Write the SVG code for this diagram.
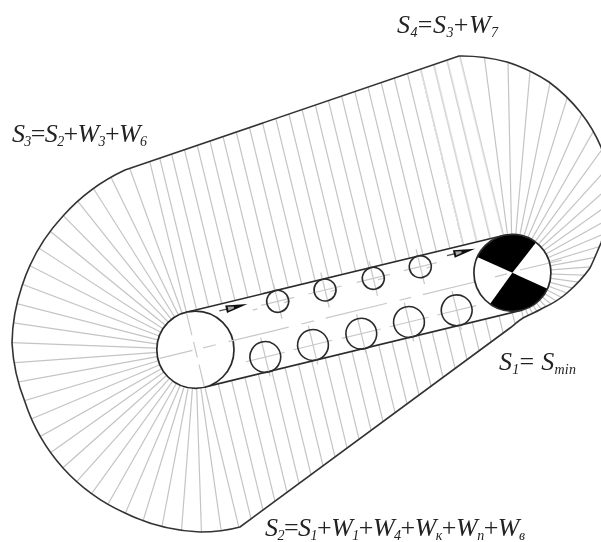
<svg xmlns="http://www.w3.org/2000/svg" xmlns:xlink="http://www.w3.org/1999/xlink" width="601" height="542" viewBox="0 0 601 542">
<style>
.h{stroke:#c4c4c4;stroke-width:1.2;fill:none}
.c{stroke:#c8c8c8;stroke-width:1.2;fill:none}
.o{stroke:#333;stroke-width:1.6;fill:none}
.k{stroke:#2c2c2c;stroke-width:1.6;fill:none}
.t{font-family:"Liberation Serif",serif;font-style:italic;font-size:26px;fill:#222}
.t .s{font-size:14px}
.t .p{font-style:normal}
</style>
<defs>
<filter id="soft" x="0" y="0" width="100%" height="100%" filterUnits="userSpaceOnUse" primitiveUnits="userSpaceOnUse"><feGaussianBlur stdDeviation="0.35"/></filter>
<path id="prof" d="M125 170 L459 56 A175 175 0 0 1 507 62 A175 175 0 0 1 549 82 A170 170 0 0 1 581 113 A150 150 0 0 1 601 147 C612 175 612 215 601 243 C597 252 594 260 590 268 C583 278 575 286 567 293 C560 299 552 304 543 308 C536 312 529 315 523 318 C518 321 514 325 510 328 L240 527 Q222 532 200 532 A186 186 0 0 1 125 513 A186 186 0 0 1 63 468 A186 186 0 0 1 25 402 A186 186 0 0 1 12 343 A186 186 0 0 1 22 286 A186 186 0 0 1 63 216 A190 190 0 0 1 125 170 Z"/>
<clipPath id="clip"><use xlink:href="#prof" href="#prof"/></clipPath>
<line id="rl" x1="0" y1="0" x2="-320" y2="0" class="h"/>
<line id="rr" x1="0" y1="0" x2="0" y2="-320" class="h"/>
<line id="pt" x1="0" y1="-330" x2="0" y2="0" class="h"/>
<line id="pb" x1="0" y1="0" x2="0" y2="330" class="h"/>
<g id="arrow">
<line x1="0" y1="0" x2="10" y2="0" stroke="#555" stroke-width="1.3"/>
<polygon points="7,-3.8 7,3.8 29,0" fill="#111"/>
<polygon points="9,-2 9,2 15,0.8 15,-0.8" fill="#aaa"/>
</g>
<g id="tc"><line x1="-17" x2="17" class="c"/><line y1="-18" y2="18" class="c"/><circle r="11" class="k"/></g>
<g id="bc"><line x1="-20" x2="20" class="c"/><line y1="-20" y2="20" class="c"/><circle r="15.4" class="k"/></g>
</defs>
<rect width="601" height="542" fill="#fff"/>
<g filter="url(#soft)">
<g id="hatching" clip-path="url(#clip)">
<g transform="translate(195.4 349.7)">
<use href="#rl" transform="rotate(2.2)"/><use href="#rl" transform="rotate(8.4)"/><use href="#rl" transform="rotate(14.5)"/><use href="#rl" transform="rotate(20.7)"/><use href="#rl" transform="rotate(26.9)"/><use href="#rl" transform="rotate(33)"/><use href="#rl" transform="rotate(39.2)"/><use href="#rl" transform="rotate(45.4)"/><use href="#rl" transform="rotate(51.6)"/><use href="#rl" transform="rotate(57.7)"/><use href="#rl" transform="rotate(63.9)"/><use href="#rl" transform="rotate(70.1)"/>
<use href="#rl" transform="rotate(-4.1)"/><use href="#rl" transform="rotate(-10.3)"/><use href="#rl" transform="rotate(-16.6)"/><use href="#rl" transform="rotate(-22.9)"/><use href="#rl" transform="rotate(-29.2)"/><use href="#rl" transform="rotate(-35.4)"/><use href="#rl" transform="rotate(-41.7)"/><use href="#rl" transform="rotate(-48)"/><use href="#rl" transform="rotate(-54.2)"/><use href="#rl" transform="rotate(-60.5)"/><use href="#rl" transform="rotate(-66.8)"/><use href="#rl" transform="rotate(-73)"/><use href="#rl" transform="rotate(-79.3)"/><use href="#rl" transform="rotate(-85.6)"/><use href="#rl" transform="rotate(-91.9)"/><use href="#rl" transform="rotate(-98.1)"/>
</g>
<g transform="translate(512.4 272.8)">
<use href="#rr" transform="rotate(-7.4)"/><use href="#rr" transform="rotate(-1.2)"/><use href="#rr" transform="rotate(5)"/><use href="#rr" transform="rotate(11.2)"/><use href="#rr" transform="rotate(17.4)"/><use href="#rr" transform="rotate(23.6)"/><use href="#rr" transform="rotate(29.8)"/><use href="#rr" transform="rotate(36)"/><use href="#rr" transform="rotate(42.2)"/><use href="#rr" transform="rotate(48.4)"/><use href="#rr" transform="rotate(54.6)"/><use href="#rr" transform="rotate(60.8)"/><use href="#rr" transform="rotate(67)"/><use href="#rr" transform="rotate(73.2)"/><use href="#rr" transform="rotate(79.4)"/><use href="#rr" transform="rotate(85.6)"/><use href="#rr" transform="rotate(91.8)"/><use href="#rr" transform="rotate(98)"/><use href="#rr" transform="rotate(104.2)"/><use href="#rr" transform="rotate(110.4)"/><use href="#rr" transform="rotate(116.6)"/><use href="#rr" transform="rotate(122.8)"/><use href="#rr" transform="rotate(129)"/><use href="#rr" transform="rotate(135.2)"/><use href="#rr" transform="rotate(141.4)"/><use href="#rr" transform="rotate(147.6)"/><use href="#rr" transform="rotate(153.8)"/><use href="#rr" transform="rotate(160)"/>
</g>
<g transform="translate(195.4 349.7) rotate(-13.63)">
<use href="#pt" x="0"/><use href="#pt" x="10.5"/><use href="#pt" x="23"/><use href="#pt" x="36.5"/><use href="#pt" x="50"/><use href="#pt" x="63.3"/><use href="#pt" x="77.1"/><use href="#pt" x="91"/><use href="#pt" x="104.9"/><use href="#pt" x="118.7"/><use href="#pt" x="132.6"/><use href="#pt" x="146.4"/><use href="#pt" x="160.3"/><use href="#pt" x="174.2"/><use href="#pt" x="188"/><use href="#pt" x="201.9"/><use href="#pt" x="215.8"/><use href="#pt" x="229.6"/><use href="#pt" x="243.5"/><use href="#pt" x="257.3"/><use href="#pt" x="271.2"/><use href="#pt" x="285.1"/><use href="#pt" x="298.9"/><use href="#pt" x="312.8"/><use href="#pt" x="326.2"/>
<use href="#pb" x="0.4"/><use href="#pb" x="14.2"/><use href="#pb" x="27.9"/><use href="#pb" x="41.6"/><use href="#pb" x="55.4"/><use href="#pb" x="69.2"/><use href="#pb" x="82.9"/><use href="#pb" x="96.7"/><use href="#pb" x="110.4"/><use href="#pb" x="124.2"/><use href="#pb" x="137.9"/><use href="#pb" x="151.7"/><use href="#pb" x="165.4"/><use href="#pb" x="179.2"/><use href="#pb" x="192.9"/><use href="#pb" x="206.7"/><use href="#pb" x="220.4"/><use href="#pb" x="234.2"/><use href="#pb" x="248"/><use href="#pb" x="261.7"/><use href="#pb" x="275.5"/><use href="#pb" x="289.2"/><use href="#pb" x="303"/><use href="#pb" x="316.7"/><use href="#pb" x="326.2"/>
</g>
</g>
<use id="profile" href="#prof" class="o"/>

<g id="slot" transform="translate(195.4 349.7) rotate(-13.63)">
<rect x="0" y="-38.5" width="326.2" height="77" fill="#fff"/>
<line x1="0" y1="-38.5" x2="326.2" y2="-38.5" class="k"/>
<line x1="0" y1="38.5" x2="326.2" y2="38.5" class="k"/>
</g>

<g id="big-circle">
<circle cx="195.4" cy="349.7" r="38.6" fill="#fff" stroke="#2c2c2c" stroke-width="1.7"/>
</g>
<g id="center-lines" transform="translate(195.4 349.7) rotate(-13.63)">
<path class="c" d="M-37 0H-3M8 0H21M34 0H96M109 0H122M134 0H197M210 0H222M234 0H297M309 0H322M0 -38V-15M0 -8V8M0 15V38"/>
<path class="c" d="M65 -25H70M97 -25H103M145 -25H150M194 -25H199M244 -25H249"/>
</g>
<g id="top-circles">
<use id="t1" href="#tc" transform="translate(277.7 301.3) rotate(-13.63)"/>
<use id="t2" href="#tc" transform="translate(325 290) rotate(-13.63)"/>
<use id="t3" href="#tc" transform="translate(373.3 278.3) rotate(-13.63)"/>
<use id="t4" href="#tc" transform="translate(420.3 266.7) rotate(-13.63)"/>
</g>
<g id="bottom-circles">
<use id="b1" href="#bc" transform="translate(265.3 357) rotate(-13.63)"/>
<use id="b2" href="#bc" transform="translate(313 345) rotate(-13.63)"/>
<use id="b3" href="#bc" transform="translate(361.3 333.7) rotate(-13.63)"/>
<use id="b4" href="#bc" transform="translate(409 322) rotate(-13.63)"/>
<use id="b5" href="#bc" transform="translate(456.7 310.3) rotate(-13.63)"/>
</g>
<g id="connectors">
<use href="#arrow" transform="translate(219.3 310.9) rotate(-13.63)"/>
<use href="#arrow" transform="translate(447 255.6) rotate(-13.63)"/>
</g>
<g id="cam-circle">
<circle cx="512.4" cy="272.8" r="38.5" fill="#fff"/>
<path fill="#000" d="M512.4 272.8 L477.3 256.9 A38.5 38.5 0 0 1 536 242.4 Z"/>
<path fill="#000" d="M512.4 272.8 L547.5 288.7 A38.5 38.5 0 0 1 490 304 Z"/>
<path class="c" d="M495 276.8L507 273.9M520 270L562 260"/>
<circle cx="512.4" cy="272.8" r="38.5" fill="none" stroke="#2c2c2c" stroke-width="1.7"/>
</g>

<text class="t" x="12" y="142" textLength="135">S<tspan class="s" dy="4">3</tspan><tspan class="p" dy="-4">=</tspan>S<tspan class="s" dy="4">2</tspan><tspan class="p" dy="-4">+</tspan>W<tspan class="s" dy="4">3</tspan><tspan class="p" dy="-4">+</tspan>W<tspan class="s" dy="4">6</tspan></text>
<text class="t" x="397" y="33" textLength="101">S<tspan class="s" dy="4">4</tspan><tspan class="p" dy="-4">=</tspan>S<tspan class="s" dy="4">3</tspan><tspan class="p" dy="-4">+</tspan>W<tspan class="s" dy="4">7</tspan></text>
<text class="t" x="499" y="370" textLength="77">S<tspan class="s" dy="4">1</tspan><tspan class="p" dy="-4">= </tspan>S<tspan class="s" dy="4">min</tspan></text>
<text class="t" x="265" y="536" textLength="260">S<tspan class="s" dy="4">2</tspan><tspan class="p" dy="-4">=</tspan>S<tspan class="s" dy="4">1</tspan><tspan class="p" dy="-4">+</tspan>W<tspan class="s" dy="4">1</tspan><tspan class="p" dy="-4">+</tspan>W<tspan class="s" dy="4">4</tspan><tspan class="p" dy="-4">+</tspan>W<tspan class="s" dy="4">к</tspan><tspan class="p" dy="-4">+</tspan>W<tspan class="s" dy="4">п</tspan><tspan class="p" dy="-4">+</tspan>W<tspan class="s" dy="4">в</tspan></text>
</g>
</svg>
